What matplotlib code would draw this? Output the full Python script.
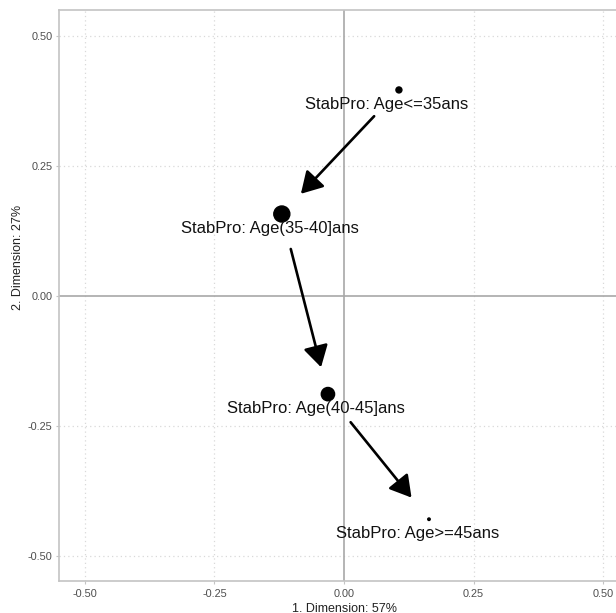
import matplotlib.pyplot as plt

plt.rcParams['font.family'] = ['Liberation Sans', 'DejaVu Sans']

# MCA coordinates of the age categories (dims 1 and 2)
labels = ['StabPro: Age<=35ans', 'StabPro: Age(35-40]ans',
          'StabPro: Age(40-45]ans', 'StabPro: Age>=45ans']
dim1 = [0.106, -0.120, -0.031, 0.164]
dim2 = [0.397, 0.158, -0.189, -0.430]
contrib = [7.5, 54.0, 37.2, 1.3]
ticks = [-0.50, -0.25, 0.00, 0.25, 0.50]
xlab = '1. Dimension: 57%'
ylab = '2. Dimension: 27%'

fig = plt.figure(figsize=(6.16, 6.13), dpi=100)
ax = fig.add_axes([59 / 616, 32 / 613, 570 / 616, 571 / 613])
ax.set_xlim(-0.55, 0.55)
ax.set_ylim(-0.549, 0.551)

# dotted grid + solid zero lines
for t in ticks:
    if t != 0:
        ax.axvline(t, color='#d9d9d9', lw=0.9, ls=(0, (1, 2.5)), zorder=0)
        ax.axhline(t, color='#d9d9d9', lw=0.9, ls=(0, (1, 2.5)), zorder=0)
ax.axvline(0, color='#a8a8a8', lw=1.2, zorder=1)
ax.axhline(0, color='#a8a8a8', lw=1.2, zorder=1)

for s in ax.spines.values():
    s.set_color('#c4c4c4')
    s.set_linewidth(1.2)

ax.scatter(dim1, dim2, s=[c * 2.47 for c in contrib], color='black', zorder=3)

for lab, x, y in zip(labels, dim1, dim2):
    ax.annotate(lab, (x, y), xytext=(-8.5, -10.5), textcoords='offset points',
                ha='center', va='center', fontsize=12, color='#111111', zorder=4)

# arrows between successive age classes
for i in range(len(dim1) - 1):
    ax.annotate('', xy=(dim1[i + 1], dim2[i + 1]), xytext=(dim1[i], dim2[i]),
                arrowprops=dict(arrowstyle='-|>,head_length=0.65,head_width=0.38',
                                mutation_scale=20, lw=1.9, color='black',
                                shrinkA=26, shrinkB=20),
                zorder=2)

ax.set_xticks(ticks)
ax.set_yticks(ticks)
ax.set_xticklabels([f'{t:.2f}' for t in ticks])
ax.set_yticklabels([f'{t:.2f}' for t in ticks])
ax.tick_params(length=2, width=0.8, color='#c4c4c4', labelsize=7.8,
               labelcolor='#4d4d4d')
ax.tick_params(axis='y', pad=2.5)
ax.tick_params(axis='x', pad=4)
ax.set_xlabel(xlab, fontsize=9, color='#222222', labelpad=3)
ax.set_ylabel(ylab, fontsize=9, color='#222222')
ax.yaxis.set_label_coords(-0.062, 0.566)

fig.savefig('out.png', dpi=100)
